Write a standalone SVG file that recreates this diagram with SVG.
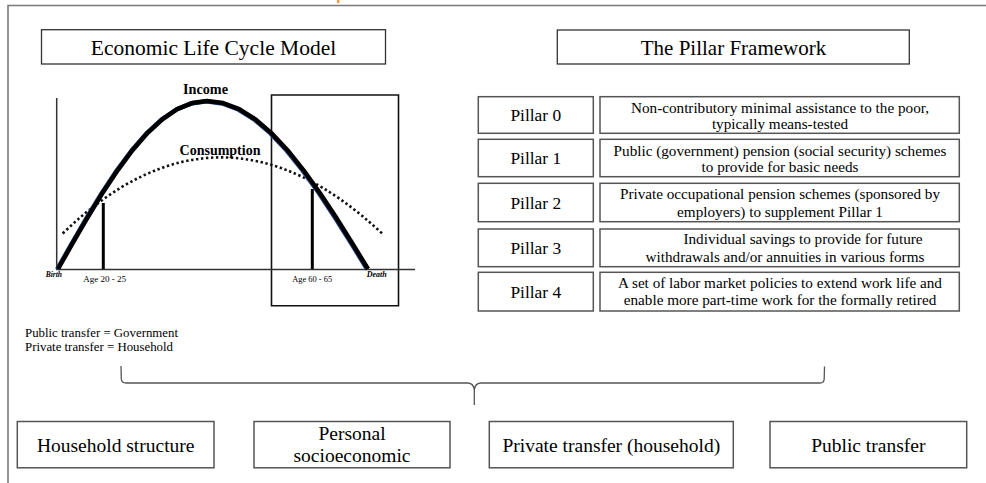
<svg xmlns="http://www.w3.org/2000/svg" width="986" height="483" viewBox="0 0 986 483" font-family="'Liberation Serif','Times New Roman','DejaVu Serif',serif">
<style>
.t{font-family:'Liberation Serif','Times New Roman','DejaVu Serif',serif;fill:#000}
.box{fill:#fff;stroke:#333;stroke-width:1.3}
.pbox{fill:#fff;stroke:#555;stroke-width:1.5}
.title{font-size:21.5px;text-anchor:middle}
.pl{font-size:17.4px;text-anchor:middle}
.ds{font-size:15.2px;text-anchor:middle}
.bt{font-size:19.5px;text-anchor:middle}
.lbl{font-weight:bold;text-anchor:middle}
.sm{font-size:9px}
.note{font-size:12.5px}
</style>
<defs>
<polyline id="income" fill="none" stroke-width="4.5" stroke-linejoin="round" points="58,269 72.9,242.7 87.8,217.1 102.7,192.7 117.6,170.3 132.5,150.2 147.4,133.1 162.3,119.3 177.2,109.2 192.1,103.1 207,101 223.1,103.1 239.2,109.2 255.3,119.3 271.4,133.1 287.5,150.2 303.6,170.3 319.7,192.7 335.8,217.1 351.9,242.7 368,269"/>
</defs>
<rect width="986" height="483" fill="#fff"/>
<g id="frame" fill="none" stroke="#7a7a7a" stroke-width="1.6">
<path d="M8,483 L8,5.5 L986,5.5"/>
</g>
<rect x="337" y="0" width="2.5" height="3" fill="#f79646"/>

<g id="title-lifecycle">
<rect class="box" x="41.5" y="29.7" width="344" height="34.3"/>
<text class="t title" x="213.5" y="55">Economic Life Cycle Model</text>
</g>
<g id="title-pillar">
<rect class="box" x="557.3" y="30" width="352" height="34"/>
<text class="t title" x="733.5" y="55" style="font-size:21px">The Pillar Framework</text>
</g>

<g id="lifecycle-chart">
<path d="M271.5,95 L398.5,95 L398.5,305.7 L271.5,305.7 Z" fill="none" stroke="#111" stroke-width="1.6"/>
<path d="M56.7,98 L56.7,269.5 L415,269.5" fill="none" stroke="#333" stroke-width="1.5"/>
<path d="M103.3,203 L103.3,269" stroke="#000" stroke-width="3"/>
<path d="M312.3,189 L312.3,269" stroke="#000" stroke-width="3"/>
<path d="M62.7,233.5 Q220,81 382.7,234" fill="none" stroke="#111" stroke-width="2.6" stroke-dasharray="2.4 2.6"/>
<use href="#income" stroke="#2a4a8a" transform="translate(-0.9,0.3)"/>
<use href="#income" stroke="#000"/>
<text class="t lbl" x="205.5" y="94" style="font-size:14.2px">Income</text>
<text class="t lbl" x="220" y="155" style="font-size:14px">Consumption</text>
<text class="t" x="45.7" y="277.3" style="font-size:7.5px;font-weight:bold;font-style:italic">Birth</text>
<text class="t" x="366.7" y="277" style="font-size:8px;font-weight:bold;font-style:italic">Death</text>
<text class="t sm" x="83.3" y="282.3">Age 20 - 25</text>
<text class="t sm" x="292.3" y="282" style="font-size:8.4px">Age 60 - 65</text>
</g>

<g id="pillar-0">
<rect class="pbox" x="478.3" y="96.7" width="115" height="36.6"/>
<text class="t pl" x="535.8" y="121">Pillar 0</text>
<rect class="pbox" x="600" y="96.7" width="359.3" height="36.6"/>
<text class="t ds" x="780" y="112.5">Non-contributory minimal assistance to the poor,</text>
<text class="t ds" x="780" y="128.5">typically means-tested</text>
</g>
<g id="pillar-1">
<rect class="pbox" x="478.3" y="139.3" width="115" height="37.4"/>
<text class="t pl" x="535.8" y="164">Pillar 1</text>
<rect class="pbox" x="600" y="139.3" width="359.3" height="37.4"/>
<text class="t ds" x="780" y="155.5">Public (government) pension (social security) schemes</text>
<text class="t ds" x="780" y="172">to provide for basic needs</text>
</g>
<g id="pillar-2">
<rect class="pbox" x="478.3" y="183.3" width="115" height="38.4"/>
<text class="t pl" x="535.8" y="208.5">Pillar 2</text>
<rect class="pbox" x="600" y="183.3" width="359.3" height="38.4"/>
<text class="t ds" x="780" y="199">Private occupational pension schemes (sponsored by</text>
<text class="t ds" x="780" y="216.5">employers) to supplement Pillar 1</text>
</g>
<g id="pillar-3">
<rect class="pbox" x="478.3" y="229" width="115" height="37.7"/>
<text class="t pl" x="535.8" y="254">Pillar 3</text>
<rect class="pbox" x="600" y="229" width="359.3" height="37.7"/>
<text class="t ds" x="803" y="244">Individual savings to provide for future</text>
<text class="t ds" x="785" y="261.5">withdrawals and/or annuities in various forms</text>
</g>
<g id="pillar-4">
<rect class="pbox" x="478.3" y="272.3" width="115" height="38.7"/>
<text class="t pl" x="535.8" y="297.5">Pillar 4</text>
<rect class="pbox" x="600" y="272.3" width="359.3" height="38.7"/>
<text class="t ds" x="780" y="287.5">A set of labor market policies to extend work life and</text>
<text class="t ds" x="780" y="305">enable more part-time work for the formally retired</text>
</g>

<g id="legend">
<text class="t note" x="25" y="336.7" textLength="153" lengthAdjust="spacingAndGlyphs">Public transfer = Government</text>
<text class="t note" x="25" y="351" textLength="148" lengthAdjust="spacingAndGlyphs">Private transfer = Household</text>
</g>

<g id="connectors" fill="none" stroke="#555" stroke-width="1.3">
<path d="M121,366 L121.3,379 Q121.8,383 126,383 L468,383 Q473.6,383.4 474.3,390 L474.3,405 M474.3,390 Q475,383.4 480.6,383 L820,383 Q824,383 824.2,379 L824.5,366.5"/>
</g>

<g id="household-structure">
<rect class="pbox" x="17.3" y="421.5" width="196.7" height="46.3"/>
<text class="t bt" x="115.7" y="451.7">Household structure</text>
</g>
<g id="personal-socioeconomic">
<rect class="pbox" x="254" y="421.5" width="196" height="46.3"/>
<text class="t bt" x="352" y="440">Personal</text>
<text class="t bt" x="352" y="462">socioeconomic</text>
</g>
<g id="private-transfer">
<rect class="pbox" x="489.3" y="421.5" width="244" height="46.3"/>
<text class="t bt" x="611.3" y="451.7">Private transfer (household)</text>
</g>
<g id="public-transfer">
<rect class="pbox" x="770" y="421.5" width="196.7" height="46.3"/>
<text class="t bt" x="868.3" y="451.7">Public transfer</text>
</g>
</svg>
